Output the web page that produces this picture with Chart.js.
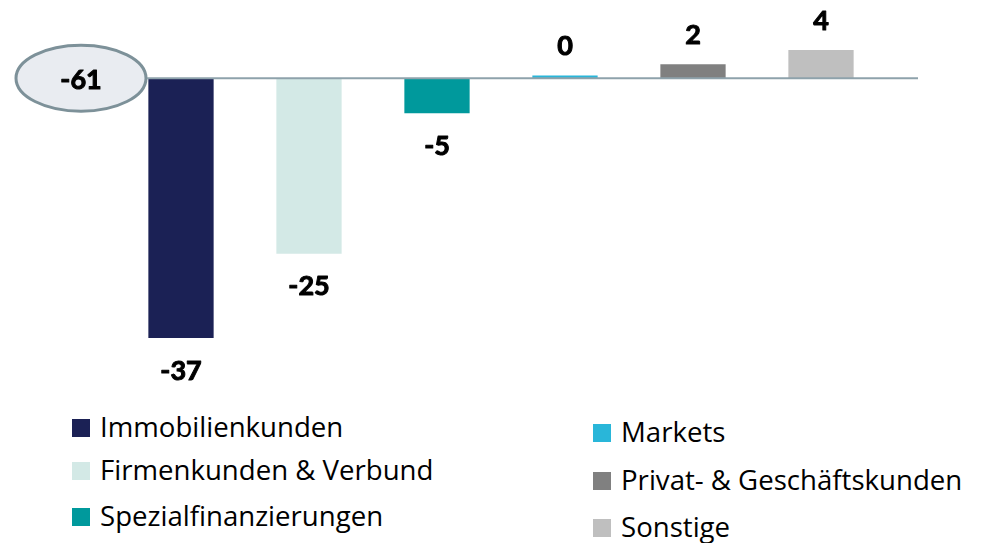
<!DOCTYPE html>
<html>
<head>
<meta charset="utf-8">
<script src="https://cdn.jsdelivr.net/npm/chart.js@4/dist/chart.umd.min.js"></script>
<style>
  html, body { margin: 0; padding: 0; background: #fff; }
  #wrap { position: relative; width: 985px; height: 543px; overflow: hidden; }
  #chart-box { position: absolute; left: 0; top: 0; width: 985px; height: 400px; }
  .legend-item {
    position: absolute;
    font-family: "Open Sans", sans-serif;
    font-size: 27.6px;
    color: #000;
    line-height: 32px;
    white-space: nowrap;
  }
  .legend-item .swatch {
    display: inline-block;
    width: 18px;
    height: 18px;
    margin-right: 10px;
    vertical-align: 0px;
  }
</style>
</head>
<body>
<div id="wrap">
  <div id="chart-box"><canvas id="bridge-chart"></canvas></div>
  <div id="legend"></div>
</div>
<script>
// Data
const categories = [
  "Immobilienkunden",
  "Firmenkunden & Verbund",
  "Spezialfinanzierungen",
  "Markets",
  "Privat- & Geschäftskunden",
  "Sonstige",
];
const values = [-37, -25, -5, 0.4, 2, 4];
const barColors = ["#1b2155", "#d3e9e6", "#00999c", "#29b6d9", "#808080", "#bfbfbf"];
const totalValue = -61;

// Legend (two columns, built from categories)
const legendSpots = [
  { left: 72, top: 410 },
  { left: 72, top: 453 },
  { left: 72, top: 499 },
  { left: 593, top: 415 },
  { left: 593, top: 463 },
  { left: 593, top: 510 },
];
const legendEl = document.getElementById("legend");
legendEl.innerHTML = categories
  .map(
    (name, i) => `
    <div class="legend-item" style="left:${legendSpots[i].left}px;top:${legendSpots[i].top}px">
      <span class="swatch" style="background:${barColors[i]}"></span>${name}
    </div>`
  )
  .join("");

// Value labels + zero line + total ellipse
const bridgeDecor = {
  id: "bridgeDecor",
  afterDatasetsDraw(chart) {
    const { ctx, chartArea, scales } = chart;
    const zeroY = scales.y.getPixelForValue(0);

    // total ellipse on the left
    const cx = chartArea.left - 36;
    const rx = 65, ry = 33;
    ctx.save();
    ctx.beginPath();
    ctx.ellipse(cx, zeroY, rx, ry, 0, 0, Math.PI * 2);
    ctx.fillStyle = "#e9ecf1";
    ctx.fill();
    ctx.lineWidth = 3;
    ctx.strokeStyle = "#7d9199";
    ctx.stroke();

    // zero line
    ctx.beginPath();
    ctx.moveTo(cx + rx + 1, zeroY);
    ctx.lineTo(chartArea.right + 33, zeroY);
    ctx.lineWidth = 2;
    ctx.strokeStyle = "#8ea2ab";
    ctx.stroke();

    // labels (a thin stroke makes them a bit heavier)
    ctx.font = "bold 27px Lato, sans-serif";
    ctx.fillStyle = "#000";
    ctx.strokeStyle = "#000";
    ctx.lineWidth = 1;
    ctx.lineJoin = "round";
    ctx.textAlign = "center";
    ctx.textBaseline = "middle";
    const drawLabel = (text, x, y) => {
      ctx.fillText(text, x, y);
      ctx.strokeText(text, x, y);
    };
    drawLabel(String(totalValue), cx, zeroY + 2);

    const meta = chart.getDatasetMeta(0);
    meta.data.forEach((bar, i) => {
      const v = values[i];
      const y = v < 0 ? bar.y + 33 : bar.y - 29;
      drawLabel(String(Math.round(v)), bar.x, y);
    });
    ctx.restore();
  },
};

const ctx = document.getElementById("bridge-chart").getContext("2d");
new Chart(ctx, {
  type: "bar",
  data: {
    labels: categories,
    datasets: [
      {
        data: values,
        backgroundColor: barColors,
        borderWidth: 0,
        barPercentage: 0.51,
        categoryPercentage: 1,
      },
    ],
  },
  options: {
    responsive: true,
    maintainAspectRatio: false,
    animation: false,
    layout: {
      padding: { left: 117, right: 100, top: 8, bottom: 41 },
    },
    scales: {
      x: { display: false },
      y: { display: false, min: -40, max: 10 },
    },
    plugins: {
      legend: { display: false },
      tooltip: { enabled: false },
    },
  },
  plugins: [bridgeDecor],
});
</script>
</body>
</html>
